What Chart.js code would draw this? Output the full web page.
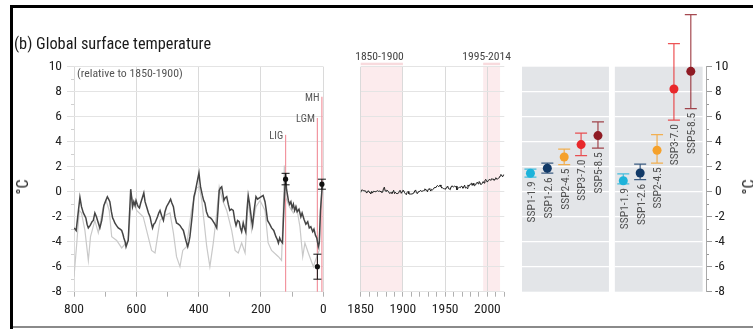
<!DOCTYPE html>
<html><head><meta charset="utf-8">
<script src="https://cdn.jsdelivr.net/npm/chart.js@4.4.1/dist/chart.umd.min.js"></script>
<style>
html,body{margin:0;padding:0;background:#fff;}
#wrap{position:relative;width:753px;height:329px;overflow:hidden;background:#fff;font-family:"Roboto Condensed","Liberation Sans",Arial,sans-serif;}
canvas{position:absolute;top:0;}
.t{position:absolute;white-space:nowrap;line-height:1;transform:translate(-50%,-50%);}
</style></head><body>
<div id="wrap">
 <div style="position:absolute;left:10px;top:5px;width:743px;height:3px;background:#000"></div>
 <div style="position:absolute;left:10px;top:5px;width:3px;height:324px;background:#000"></div>
 <div style="position:absolute;left:13px;top:326px;width:740px;height:2px;background:#8a8a8a"></div>
 <canvas id="c1" width="340" height="329" style="left:0px"></canvas>
 <canvas id="c2" width="180" height="329" style="left:340px"></canvas>
 <canvas id="c3" width="238" height="329" style="left:515px"></canvas>
 <div class="t" style="left:14px;top:43.5px;font-size:16.3px;color:#1a1a1a;transform:translate(0,-50%)">(b) Global surface temperature</div>
 <div class="t" style="left:77px;top:74px;font-size:11.8px;color:#555;transform:translate(0,-50%)">(relative to 1850-1900)</div>
 <div class="t" style="left:22.5px;top:187px;font-size:16px;color:#222;transform:translate(-50%,-50%) rotate(-90deg)">°C</div>
 <div class="t" style="left:749px;top:187px;font-size:16px;color:#222;transform:translate(-50%,-50%) rotate(-90deg)">°C</div>
 <div class="t" style="left:379.5px;top:56.7px;font-size:11.6px;color:#444">1850-1900</div>
 <div class="t" style="left:486.7px;top:56.7px;font-size:11.6px;color:#444">1995-2014</div>
</div>
<script>
// ---------- DATA ----------
const paleoAgeDark = [800,796,793,788,781,776,770,766,762,758,
754,748,742,738,733,728,722,717,711,704,
698,693,689,685,680,676,672,669,664,658,
652,647,643,640,636,633,629,626,618,614,
612,608,604,601,597,594,590,586,581,576,
572,567,561,556,552,548,544,540,532,528,
524,519,513,508,503,496,490,486,481,476,
471,465,460,455,449,445,441,435,431,428,
421,415,411,407,403,399,396,394,388,384,
380,375,369,362,358,353,348,342,338,334,
330,326,322,319,315,310,305,300,295,289,
284,280,275,270,266,262,257,253,249,245,
241,237,233,230,227,222,216,211,205,199,
193,187,183,179,172,166,159,152,148,144,
140,137,131,126,121,118,112,108,104,100,
96,92,88,84,78,72,68,62,56,50,
45,40,34,30,25,21,16,13,9,4,
0];
const paleoTempDark = [-2.9,-3.0,-3.1,-2.0,-0.45,-1.2,-1.7,-1.9,-2.1,-2.6,
-2.9,-2.7,-2.4,-2.3,-1.7,-2.0,-2.5,-2.9,-2.3,-1.1,
-0.7,-0.4,-0.6,-0.8,-1.6,-2.1,-2.3,-2.5,-2.7,-2.9,
-3.0,-3.1,-3.4,-3.7,-4.0,-4.4,-4.1,-3.9,0.2,-0.7,
-1.2,-0.8,-1.1,-0.7,-1.0,-1.2,-1.3,-0.9,-0.5,-0.1,
-0.8,-1.2,-1.7,-2.0,-2.5,-2.9,-2.6,-2.5,-2.0,-1.7,
-1.5,-1.9,-2.3,-1.6,-1.2,-0.9,-0.6,-0.9,-1.2,-2.0,
-2.5,-2.6,-2.7,-2.9,-3.1,-3.5,-3.9,-4.4,-4.0,-3.6,
-2.0,-0.4,0.0,0.5,1.0,1.5,0.8,0.4,-0.3,-0.7,
-0.9,-1.6,-2.0,-2.1,-2.2,-2.4,-2.6,-2.9,-1.5,0.1,
0.3,0.4,-0.2,-0.7,-0.5,-0.4,-1.0,-1.5,-1.4,-1.5,
-2.3,-2.7,-2.3,-2.4,-2.9,-3.2,-2.5,-2.9,-3.2,-1.5,
-0.3,-0.9,-1.7,-2.3,-2.7,-1.5,-0.4,-0.6,-0.5,-0.4,
-0.3,-0.8,-1.5,-2.3,-2.6,-2.9,-3.1,-3.6,-3.8,-4.1,
-3.7,-3.9,-4.1,-1.0,1.5,0.2,-0.7,-1.0,-0.8,-1.3,
-1.0,-1.5,-1.2,-1.6,-1.4,-2.0,-1.7,-2.2,-2.6,-2.4,
-2.9,-2.8,-3.2,-3.0,-3.5,-3.7,-4.4,-4.1,-1.5,0.3,
0.5];
const paleoAgeLight = [800,792,783,776,765,754,747,733,722,706,697,687,679,663,647,633,626,615,599,578,567,551,540,524,508,492,481,471,460,451,439,423,407,398,390,383,374,364,353,342,334,323,310,294,283,273,262,251,241,230,216,203,187,177,166,144,134,128,125,120,109,96,86,75,66,59,48,32,21,13,9,4,0];
const paleoTempLight = [-6.8,-4.4,-1.5,-1.7,-3.1,-5.5,-3.6,-2.3,-3.3,-1.2,-0.7,-1.5,-3.6,-3.9,-4.5,-4.1,-3.9,-0.4,-1.5,-2.0,-3.1,-4.7,-4.9,-2.3,-1.9,-1.7,-3.3,-5.2,-6.0,-4.7,-4.4,-1.5,0.3,0.4,-0.7,-2.3,-4.4,-6.0,-4.1,-1.7,0.4,-0.7,-1.5,-3.1,-4.7,-4.9,-4.1,-4.9,-0.7,-3.1,-1.2,-0.7,-1.5,-4.1,-4.7,-5.2,-5.5,-1.0,2.1,-0.5,-1.2,-1.7,-1.2,-2.8,-5.2,-4.1,-4.9,-6.0,-5.2,-4.7,-1.5,0.3,0.5];
const markerNames = ['LIG','LGM','MH'];
const markerAge = [121, 19, 4.5];
const markerTemp = [1.0, -6.0, 0.6];
const markerLow = [0.55, -7.0, 0.2];
const markerHigh = [1.47, -5.0, 1.0];
const markerLineTop = [4.55, 5.9, 7.6];
const instStartYear = 1850;
const instTemp = [-0.06,0.13,0.13,0.09,0.07,0.06,0.04,-0.11,-0.03,0.08,
-0.03,-0.07,-0.18,0.02,-0.11,0.03,0.02,0.00,0.01,0.04,
0.08,0.03,0.05,0.04,-0.02,-0.06,-0.04,0.26,0.36,0.06,
0.04,0.13,0.07,0.01,-0.13,-0.11,-0.06,-0.14,-0.02,0.11,
-0.15,-0.04,-0.14,-0.15,-0.13,-0.09,0.08,0.09,-0.13,0.00,
0.13,0.07,-0.08,-0.17,-0.24,-0.05,0.02,-0.17,-0.19,-0.19,
-0.18,-0.20,-0.11,-0.10,0.06,0.14,-0.09,-0.16,-0.02,0.02,
0.03,0.11,0.02,0.05,0.05,0.12,0.23,0.13,0.14,-0.01,
0.19,0.24,0.18,0.05,0.19,0.15,0.20,0.32,0.34,0.33,
0.45,0.49,0.42,0.43,0.54,0.41,0.29,0.31,0.25,0.25,
0.18,0.30,0.38,0.45,0.24,0.22,0.16,0.40,0.47,0.42,
0.38,0.44,0.40,0.44,0.15,0.25,0.33,0.35,0.32,0.44,
0.40,0.28,0.39,0.52,0.29,0.35,0.26,0.54,0.43,0.53,
0.62,0.68,0.50,0.67,0.52,0.48,0.54,0.69,0.76,0.63,
0.81,0.77,0.58,0.59,0.68,0.81,0.69,0.88,0.99,0.85,
0.77,0.90,0.96,0.98,0.90,1.04,1.00,1.02,0.90,1.02,
1.12,1.00,1.02,1.07,1.11,1.26,1.38,1.28,1.19,1.34,1.35];
const bandStart = [1850, 1995];
const bandEnd = [1900, 2015];
const scenarios = ['SSP1-1.9','SSP1-2.6','SSP2-4.5','SSP3-7.0','SSP5-8.5'];
const scenarioColors = ['#1db3da','#123a68','#f5a12b','#e8282b','#8f1b24'];
const mean2100 = [1.48,1.88,2.78,3.77,4.49];
const low2100 = [1.16,1.48,2.17,2.89,3.48];
const high2100 = [1.80,2.28,3.40,4.69,5.59];
const mean2300 = [0.88,1.50,3.32,8.22,9.63];
const low2300 = [0.62,0.96,2.28,5.73,6.64];
const high2300 = [1.42,2.20,4.57,11.85,14.16];

// ---------- SETUP ----------
const FONT = '"Roboto Condensed","Liberation Sans",Arial,sans-serif';
Chart.defaults.font.family = FONT;
Chart.defaults.color = '#222';
const TICKFONT = {size:13.5};
const common = {responsive:false, animation:false, devicePixelRatio:1,
  plugins:{legend:{display:false}, tooltip:{enabled:false}}};

// Panel 1: paleo
const paleoPlugin = {
  id:'paleo',
  beforeDatasetsDraw(chart){
    const {ctx, scales:{x,y}} = chart;
    ctx.save();
    ctx.strokeStyle = '#d0d0d0'; ctx.lineWidth = 1;
    for (let v=-7; v<10; v+=2){ const py=Math.round(y.getPixelForValue(v))+0.5; ctx.beginPath(); ctx.moveTo(chart.chartArea.left-3,py); ctx.lineTo(chart.chartArea.left,py); ctx.stroke(); }
    ctx.strokeStyle = '#f2959f'; ctx.lineWidth = 1.2;
    markerAge.forEach((a,i)=>{ const px=x.getPixelForValue(a); ctx.beginPath(); ctx.moveTo(px,y.getPixelForValue(markerLineTop[i])); ctx.lineTo(px,y.getPixelForValue(-8)); ctx.stroke(); });
    ctx.fillStyle = '#555'; ctx.font = '10.5px '+FONT; ctx.textAlign='right'; ctx.textBaseline='middle';
    markerAge.forEach((a,i)=>{ ctx.fillText(markerNames[i], x.getPixelForValue(a)-2.5, y.getPixelForValue(markerLineTop[i])+1.5); });
    ctx.restore();
  },
  afterDatasetsDraw(chart){
    const {ctx, scales:{x,y}} = chart;
    ctx.save(); ctx.strokeStyle='#111'; ctx.lineWidth=1;
    markerAge.forEach((a,i)=>{ const px=x.getPixelForValue(a); const y1=y.getPixelForValue(markerHigh[i]), y2=y.getPixelForValue(markerLow[i]);
      ctx.beginPath(); ctx.moveTo(px,y1); ctx.lineTo(px,y2); ctx.moveTo(px-4,y1); ctx.lineTo(px+4,y1); ctx.moveTo(px-4,y2); ctx.lineTo(px+4,y2); ctx.stroke(); });
    ctx.restore();
  }
};
new Chart(document.getElementById('c1'), {
  type:'line',
  data:{datasets:[
    {data: paleoAgeLight.map((a,i)=>({x:a,y:paleoTempLight[i]})), borderColor:'#c9c9c9', borderWidth:1.2, pointRadius:0, order:3},
    {data: paleoAgeDark.map((a,i)=>({x:a,y:paleoTempDark[i]})), borderColor:'#454545', borderWidth:1.5, pointRadius:0, order:2},
    {type:'scatter', data: markerAge.map((a,i)=>({x:a,y:markerTemp[i]})), pointRadius:2.6, backgroundColor:'#111', borderWidth:0, order:1, clip:false}
  ]},
  options:{...common,
    layout:{padding:{left:12,right:16.7,top:66.7,bottom:0}},
    scales:{
      x:{type:'linear', reverse:true, min:0, max:800,
        ticks:{stepSize:100, autoSkip:false, maxRotation:0, padding:5, color:'#222', font:TICKFONT, callback:v=>v%200===0?String(v):''},
        grid:{color:c=>(c.tick && c.tick.value%200===0)?'#dadada':'rgba(0,0,0,0)', tickColor:'#b0b0b0', tickLength:5},
        border:{display:false}, afterFit:s=>{s.height=37.3;}},
      y:{min:-8, max:10,
        ticks:{stepSize:2, color:'#222', font:TICKFONT, padding:5},
        grid:{color:'#e4e4e4', tickLength:7, tickColor:'#e0e0e0'},
        border:{display:false}, afterFit:s=>{s.width=62;}}
    }},
  plugins:[paleoPlugin]
});

// Panel 2: instrumental
const bandPlugin = {
  id:'bands',
  beforeDraw(chart){
    const {ctx, chartArea:a, scales:{x}} = chart;
    ctx.save();
    bandStart.forEach((s,i)=>{ const x1=x.getPixelForValue(s), x2=x.getPixelForValue(bandEnd[i]);
      ctx.fillStyle='#fcebed'; ctx.fillRect(x1,a.top,x2-x1,a.bottom-a.top);
      ctx.fillStyle='#f8dadd'; ctx.fillRect(x1,a.top-4,x2-x1,2.5); });
    ctx.restore();
  }
};
new Chart(document.getElementById('c2'), {
  type:'line',
  data:{datasets:[{data: instTemp.map((v,i)=>({x:instStartYear+i,y:v})), borderColor:'#1a1a1a', borderWidth:1, pointRadius:0}]},
  options:{...common,
    layout:{padding:{left:20.7,right:15.7,top:66.7,bottom:0}},
    scales:{
      x:{type:'linear', min:1850, max:2020,
        ticks:{stepSize:10, autoSkip:false, maxRotation:0, padding:5, color:'#222', font:TICKFONT, callback:v=>v%50===0?String(v):''},
        grid:{color:c=>(c.tick && c.tick.value%50===0)?'#dadada':'rgba(0,0,0,0)', tickColor:'#b0b0b0', tickLength:5},
        border:{display:false}, afterFit:s=>{s.height=37.3;}},
      y:{min:-8, max:10, ticks:{display:false, stepSize:2}, grid:{color:'#e4e4e4', drawTicks:false},
        border:{display:false}, afterFit:s=>{s.width=0;}}
    }},
  plugins:[bandPlugin]
});

// Panel 3: projections
const groupMeans = [mean2100, mean2300], groupLows=[low2100, low2300], groupHighs=[high2100, high2300];
const groupSpan = [[0,5.15],[5.5,10.7]];
const projX = (g,i)=> g*5.5 + i + 0.5;
const projPts = [], projCols = [];
groupMeans.forEach((arr,g)=>arr.forEach((v,i)=>{ projPts.push({x:projX(g,i), y:v}); projCols.push(scenarioColors[i]); }));
const projPlugin = {
  id:'proj',
  beforeDraw(chart){
    const {ctx, scales:{x,y}} = chart;
    ctx.save();
    const t=y.getPixelForValue(10), b=y.getPixelForValue(-8);
    groupSpan.forEach(([s,e])=>{ const x1=x.getPixelForValue(s), x2=x.getPixelForValue(e);
      ctx.fillStyle='#e3e5e8'; ctx.fillRect(x1,t,x2-x1,b-t);
      ctx.strokeStyle='#ffffff'; ctx.lineWidth=1.2;
      for(let v=-6; v<=8; v+=2){ const py=y.getPixelForValue(v); ctx.beginPath(); ctx.moveTo(x1,py); ctx.lineTo(x2,py); ctx.stroke(); } });
    ctx.strokeStyle='#999'; ctx.lineWidth=1;
    const ax = chart.chartArea.right;
    for (let v=-7; v<10; v+=2){ const py=Math.round(y.getPixelForValue(v))+0.5; ctx.beginPath(); ctx.moveTo(ax,py); ctx.lineTo(ax+3,py); ctx.stroke(); }
    ctx.restore();
  },
  beforeDatasetsDraw(chart){
    const {ctx, scales:{x,y}} = chart;
    ctx.save(); ctx.lineWidth=1.2;
    groupMeans.forEach((arr,g)=>arr.forEach((v,i)=>{
      const px=x.getPixelForValue(projX(g,i)); const y1=y.getPixelForValue(groupHighs[g][i]), y2=y.getPixelForValue(groupLows[g][i]);
      ctx.strokeStyle=scenarioColors[i]; ctx.globalAlpha=0.8;
      ctx.beginPath(); ctx.moveTo(px,y1); ctx.lineTo(px,y2); ctx.moveTo(px-6,y1); ctx.lineTo(px+6,y1); ctx.moveTo(px-6,y2); ctx.lineTo(px+6,y2); ctx.stroke();
      ctx.globalAlpha=1;
      ctx.save(); ctx.fillStyle='#505050'; ctx.font='11.5px '+FONT; ctx.textAlign='right'; ctx.textBaseline='middle';
      ctx.translate(px+1.5, y2+4); ctx.rotate(-Math.PI/2); ctx.fillText(scenarios[i],0,0); ctx.restore();
    }));
    ctx.restore();
  }
};
new Chart(document.getElementById('c3'), {
  type:'scatter',
  data:{datasets:[{data: projPts, pointRadius:4.5, pointBackgroundColor: projCols, pointBorderWidth:0, clip:false}]},
  options:{...common,
    layout:{padding:{left:7,right:0,top:66.7,bottom:37.3}},
    scales:{
      x:{type:'linear', min:0, max:10.9, display:false},
      y:{position:'right', min:-8, max:10,
        ticks:{stepSize:2, padding:3, color:'#222', font:TICKFONT},
        grid:{drawOnChartArea:false, tickLength:6, tickColor:'#999'},
        border:{display:true, color:'#aaa'}, afterFit:s=>{s.width=47;}}
    }},
  plugins:[projPlugin]
});
</script>
</body></html>
